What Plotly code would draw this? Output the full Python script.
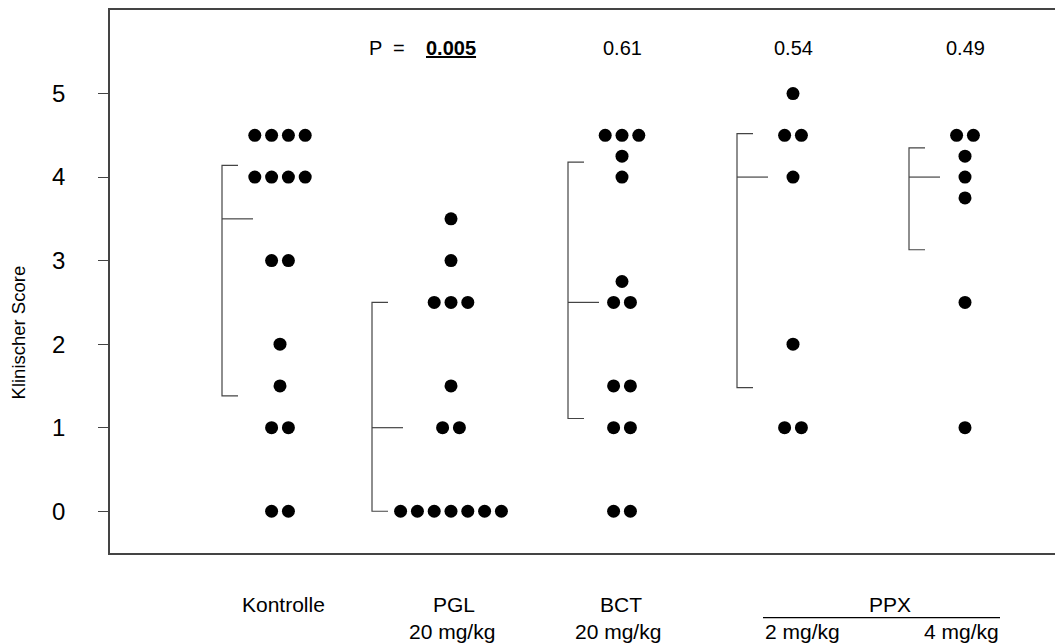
import plotly.graph_objects as go

# ---- data ----
groups = ["Kontrolle", "PGL", "BCT", "PPX 2 mg/kg", "PPX 4 mg/kg"]
group_x = [280, 451, 622, 793, 965]

kontrolle_vals = [4.5, 4.5, 4.5, 4.5, 4, 4, 4, 4, 3, 3, 2, 1.5, 1, 1, 0, 0]
kontrolle_off = [-1.5, -0.5, 0.5, 1.5, -1.5, -0.5, 0.5, 1.5, -0.5, 0.5, 0, 0, -0.5, 0.5, -0.5, 0.5]

pgl_vals = [3.5, 3, 2.5, 2.5, 2.5, 1.5, 1, 1, 0, 0, 0, 0, 0, 0, 0]
pgl_off = [0, 0, -1, 0, 1, 0, -0.5, 0.5, -3, -2, -1, 0, 1, 2, 3]

bct_vals = [4.5, 4.5, 4.5, 4.25, 4, 2.75, 2.5, 2.5, 1.5, 1.5, 1, 1, 0, 0]
bct_off = [-1, 0, 1, 0, 0, 0, -0.5, 0.5, -0.5, 0.5, -0.5, 0.5, -0.5, 0.5]

ppx2_vals = [5, 4.5, 4.5, 4, 2, 1, 1]
ppx2_off = [0, -0.5, 0.5, 0, 0, -0.5, 0.5]

ppx4_vals = [4.5, 4.5, 4.25, 4, 3.75, 2.5, 1]
ppx4_off = [-0.5, 0.5, 0, 0, 0, 0, 0]

dot_spacing = 16.8

# brackets: median with interquartile range
bracket_x = [222, 372, 568, 737, 909]
bracket_q3 = [4.14, 2.5, 4.18, 4.52, 4.35]
bracket_med = [3.5, 1.0, 2.5, 4.0, 4.0]
bracket_q1 = [1.38, 0.0, 1.11, 1.48, 3.13]

p_values = ["0.005", "0.61", "0.54", "0.49"]

y_ticks = [0, 1, 2, 3, 4, 5]

FONT = "Liberation Sans, Arial, sans-serif"
LINE = "#444444"

fig = go.Figure()

all_vals = [kontrolle_vals, pgl_vals, bct_vals, ppx2_vals, ppx4_vals]
all_off = [kontrolle_off, pgl_off, bct_off, ppx2_off, ppx4_off]
for name, cx, vals, offs in zip(groups, group_x, all_vals, all_off):
    fig.add_trace(go.Scatter(
        x=[cx + o * dot_spacing for o in offs], y=vals, mode="markers",
        marker=dict(size=13, color="black"), name=name, showlegend=False,
        hoverinfo="y"))

# bracket lines
bx, by = [], []
short, long_ = 16, 31
for x0, q3, med, q1 in zip(bracket_x, bracket_q3, bracket_med, bracket_q1):
    bx += [x0 + short, x0, x0, x0 + short, None, x0, x0 + long_, None]
    by += [q3, q3, q1, q1, None, med, med, None]
fig.add_trace(go.Scatter(x=bx, y=by, mode="lines",
                         line=dict(color=LINE, width=1.2),
                         showlegend=False, hoverinfo="skip"))

annotations = []
# p-values
p_y = 5.55
pfont = dict(size=20, family=FONT, color="black")
annotations.append(dict(x=407, y=p_y, xref="x", yref="y", text="P  =",
                        showarrow=False, xanchor="right", yanchor="middle",
                        font=pfont))
annotations.append(dict(x=group_x[1], y=p_y, xref="x", yref="y",
                        text="<b><u>" + p_values[0] + "</u></b>",
                        showarrow=False, xanchor="center", yanchor="middle",
                        font=pfont))
for cx, pv in zip(group_x[2:], p_values[1:]):
    annotations.append(dict(x=cx, y=p_y, xref="x", yref="y", text=pv,
                            showarrow=False, xanchor="center", yanchor="middle",
                            font=pfont))

# category labels
row1 = -0.0954
row2 = -0.145
lab = dict(showarrow=False, xref="x", yref="paper", yanchor="middle",
           font=dict(size=21, family=FONT, color="black"))
annotations += [
    dict(lab, x=283, y=row1, text="Kontrolle", xanchor="center"),
    dict(lab, x=454, y=row1, text="PGL", xanchor="center"),
    dict(lab, x=452, y=row2, text="20 mg/kg", xanchor="center"),
    dict(lab, x=621, y=row1, text="BCT", xanchor="center"),
    dict(lab, x=618, y=row2, text="20 mg/kg", xanchor="center"),
    dict(lab, x=890, y=row1, text="PPX", xanchor="center"),
    dict(lab, x=763, y=row2, text="2 mg/kg", xanchor="left"),
    dict(lab, x=1001, y=row2, text="4 mg/kg", xanchor="right"),
]
# y-axis title
annotations.append(dict(x=-0.095, y=0.407, xref="paper", yref="paper",
                        text="Klinischer Score", textangle=-90, showarrow=False,
                        xanchor="center", yanchor="middle",
                        font=dict(size=18.5, family=FONT, color="black")))

shapes = [dict(type="line", xref="x", yref="paper", x0=763, x1=1000,
               y0=-0.119, y1=-0.119, line=dict(color="black", width=1.2))]

# the page body has an 8px margin, so the figure is sized/placed to compensate
fig.update_layout(
    width=1055, height=636,
    margin=dict(l=102, r=0, t=0, b=91),
    plot_bgcolor="white", paper_bgcolor="white",
    font=dict(family=FONT, color="black"),
    annotations=annotations, shapes=shapes, showlegend=False,
    xaxis=dict(range=[110, 1063], showgrid=False, zeroline=False,
               showticklabels=False, ticks="", showline=True,
               linecolor=LINE, linewidth=1.5, mirror=True, fixedrange=True),
    yaxis=dict(range=[-0.5, 6], tickvals=y_ticks, showgrid=False,
               zeroline=False, ticks="outside", ticklen=10, tickwidth=1,
               tickcolor=LINE, showline=True, linecolor=LINE, linewidth=1.5,
               tickfont=dict(size=24, family=FONT, color="black"),
               ticklabelstandoff=28, fixedrange=True),
)

fig.write_html("out.html")
